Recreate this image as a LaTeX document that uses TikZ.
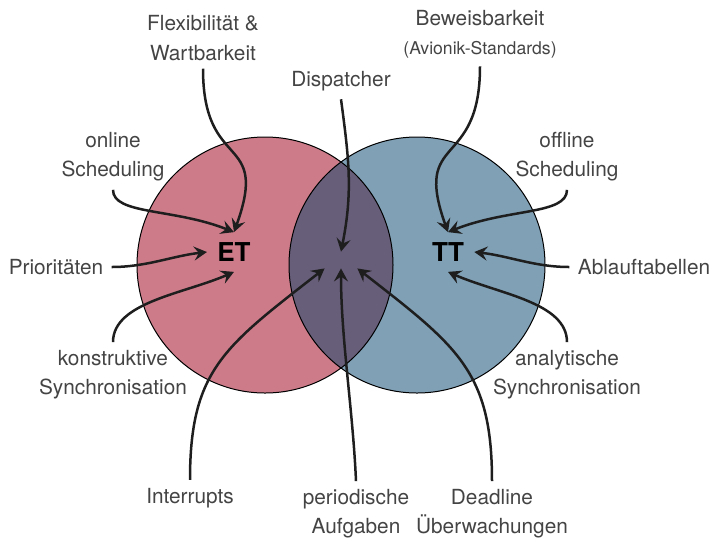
\documentclass[tikz,border=0pt]{standalone}
\usepackage{fontspec}
\setmainfont{TeX Gyre Heros}
\usepackage{xcolor}
\definecolor{etRed}{HTML}{CD7B89}
\definecolor{ttBlue}{HTML}{7FA0B5}
\definecolor{bothViolet}{HTML}{675E7A}
\definecolor{lblGrey}{HTML}{444444}
\definecolor{arrDark}{HTML}{1E1E1E}
\usepackage{tikz}
\usetikzlibrary{arrows.meta}
\tikzset{
    lbl/.style={text=lblGrey, align=center, inner sep=4pt, font=\fontsize{10.4}{14.6}\selectfont},
    core/.style={font=\fontsize{13}{15}\selectfont\bfseries, inner sep=5pt},
    feed/.style={draw=arrDark, line width=1.25pt, -{Stealth[length=6.5pt,width=7pt,inset=2.4pt]}},
    ring/.style={draw=black, line width=0.5pt}
}

\begin{document}
\begin{tikzpicture}[x=0.5pt, y=-0.5pt]
  \useasboundingbox (0,0) rectangle (712,537);
  % size
  \def\R{128}
  \coordinate (cET) at (265,265);
  \coordinate (cTT) at (417,265);

  % circles (overlap drawn separately)
  \fill[etRed] (cET) circle (\R);
  \fill[ttBlue] (cTT) circle (\R);
  \begin{scope}
    \clip (cET) circle (\R);
    \fill[bothViolet] (cTT) circle (\R);
  \end{scope}
  \draw[ring] (cET) circle (\R);
  \draw[ring] (cTT) circle (\R);

  % the two paradigms and the common point
  \node[core] (ET) at (234,252) {ET};
  \node[core] (TT) at (448,252) {TT};
  \node[minimum width=16pt, minimum height=8pt, inner sep=0pt] (hub) at (341,260) {};

  % labels
  \node[lbl] (flex) at (203,38) {Flexibilität \&\\Wartbarkeit};
  \node[lbl] (beweis) at (480,34) {Beweisbarkeit\\{\fontsize{8.8}{10}\selectfont (Avionik-Standards)}};
  \node[lbl] (disp) at (341,81) {Dispatcher};
  \node[lbl] (online) at (113,157) {online\\Scheduling};
  \node[lbl] (offline) at (567,157) {offline\\Scheduling};
  \node[lbl] (prio) at (56,267) {Prioritäten};
  \node[lbl] (ablauf) at (644,267) {Ablauftabellen};
  \node[lbl] (konstr) at (113,375) {konstruktive\\Synchronisation};
  \node[lbl] (analyt) at (567,375) {analytische\\Synchronisation};
  \node[lbl] (irq) at (190,498) {Interrupts};
  \node[lbl] (period) at (356,514) {periodische\\Aufgaben};
  \node[lbl] (dead) at (492,514) {Deadline\\Überwachungen};

  % ET side
  \draw[feed] (flex.south) .. controls +(0,105) and +(36,-100) .. (ET.north);
  \draw[feed] (online.south) .. controls +(0,25) and +(-60,-24) .. (ET.north);
  \draw[feed] (prio.east) .. controls +(35,0) and +(-35,4) .. (ET.west);
  \draw[feed] (konstr.north) .. controls +(0,-40) and +(-50,22) .. (ET.south);

  % TT side
  \draw[feed] (beweis.south) .. controls +(0,105) and +(-36,-100) .. (TT.north);
  \draw[feed] (offline.south) .. controls +(0,25) and +(60,-24) .. (TT.north);
  \draw[feed] (ablauf.west) .. controls +(-35,0) and +(35,4) .. (TT.east);
  \draw[feed] (analyt.north) .. controls +(0,-40) and +(50,22) .. (TT.south);

  % both
  \draw[feed] (disp.south) .. controls +(8,60) and +(12,-60) .. (hub.north);
  \draw[feed] (irq.north) .. controls +(0,-110) and +(-100,78) .. (hub.south west);
  \draw[feed] (period.north) .. controls +(-3,-70) and +(0,70) .. (hub.south);
  \draw[feed] (dead.north) .. controls +(0,-110) and +(100,78) .. (hub.south east);
\end{tikzpicture}
\end{document}
